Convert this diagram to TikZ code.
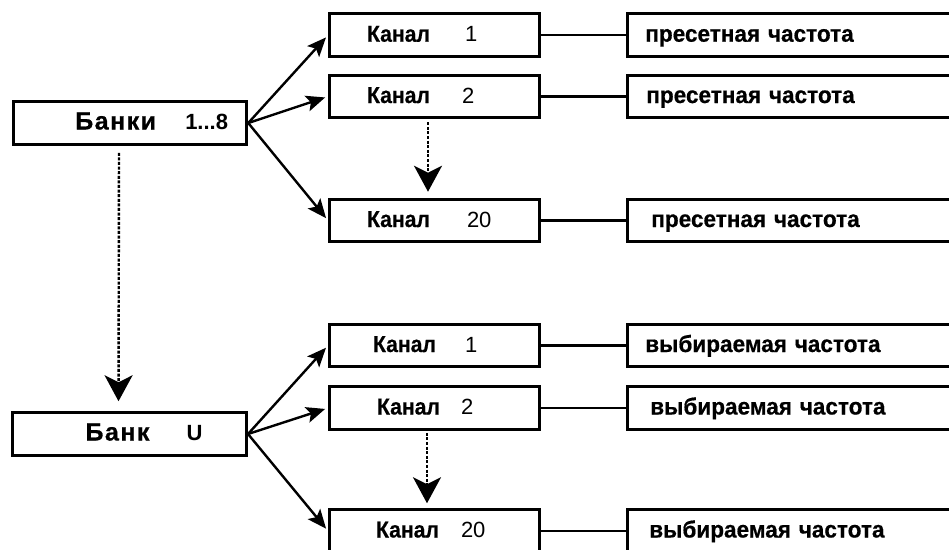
\documentclass[tikz,border=0pt]{standalone}
\usepackage{fontspec}
\setmainfont{Liberation Sans}
\newfontfamily\kanalfont[FakeStretch=0.92,FakeBold=0.6]{Liberation Sans}
\newfontfamily\freqfont[FakeStretch=0.96,FakeBold=0.6]{Liberation Sans}
\newfontfamily\bankfont[LetterSpace=6,FakeBold=0.6]{Liberation Sans}
\usetikzlibrary{arrows.meta}

% Schriften fuer Beschriftungen
\newcommand\chnum[1]{{\mainfont\mdseries\fontsize{22}{22}\selectfont #1}}
\newcommand\mainfont{\fontspec{Liberation Sans}}
\newcommand\kanal[3]{\hspace*{#1pt}\rlap{Канал}\hspace*{#2pt}\chnum{#3}}

\begin{document}
\begin{tikzpicture}[x=1pt,y=-1pt,
    box/.style={draw, line width=3pt, inner sep=0pt, minimum height=42.5pt,
      text width=#1, align=left, text height=15pt, text depth=2pt,
      font=\kanalfont\bfseries\fontsize{23}{23}\selectfont},
    bankbox/.style={box=#1, font=\bankfont\bfseries\fontsize{25}{25}\selectfont},
    freqbox/.style={box=#1, font=\freqfont\bfseries\fontsize{23.5}{23.5}\selectfont},
    arr/.style={-{Stealth[length=19pt,width=16pt,inset=4pt]}, line width=2.4pt, shorten >=3pt},
    dots/.style={-{Stealth[length=26pt,width=28pt,inset=7pt]}, line width=2.4pt,
      dash pattern=on 3pt off 1.6pt},
    link/.style={line width=2.4pt}]
  \useasboundingbox (0,0) rectangle (949,549);

  % Breiten der Kaesten
  \def\wb{233.5}  % Bank
  \def\wk{210}    % Kanal
  \def\wf{340}    % Frequenz

  % obere Gruppe: Banken 1...8
  \node[bankbox=\wb pt] (banki) at (130,123) {\hspace*{62pt}\rlap{Банки}\hspace*{110pt}{\mainfont\bfseries\fontsize{22}{22}\selectfont 1...8}};
  \node[box=\wk pt] (ka1) at (434.5,35.2) {\kanal{37.5}{98}{1}};
  \node[box=\wk pt] (ka2) at (434.5,96.5) {\kanal{37.5}{95}{2}};
  \node[box=\wk pt] (ka20) at (434.5,220.5) {\kanal{37.5}{100}{20}};
  \node[freqbox=\wf pt] (pa1) at (797.3,35.2) {\hspace*{18pt}пресетная частота};
  \node[freqbox=\wf pt] (pa2) at (797.3,96.5) {\hspace*{19pt}пресетная частота};
  \node[freqbox=\wf pt] (pa20) at (797.3,220.5) {\hspace*{24pt}пресетная частота};

  % untere Gruppe: Bank U
  \node[bankbox=234pt] (banku) at (129.5,434) {\hspace*{73pt}\rlap{Банк}\hspace*{101pt}{\mainfont\bfseries\fontsize{22}{22}\selectfont U}};
  \node[box=\wk pt] (kb1) at (434.5,345.5) {\kanal{43.5}{92}{1}};
  \node[box=\wk pt] (kb2) at (434.5,408) {\kanal{47.5}{84}{2}};
  \node[box=\wk pt] (kb20) at (434.5,531) {\kanal{46.5}{85}{20}};
  \node[freqbox=\wf pt] (pb1) at (797.3,345.5) {\hspace*{18pt}выбираемая частота};
  \node[freqbox=\wf pt] (pb2) at (797.3,408) {\hspace*{23pt}выбираемая частота};
  \node[freqbox=\wf pt] (pb20) at (797.3,531) {\hspace*{22pt}выбираемая частота};

  % Pfeile von den Banken zu den Kanaelen
  \foreach \b/\k in {banki/ka1, banki/ka2, banki/ka20, banku/kb1, banku/kb2, banku/kb20}
    \draw[arr] (\b.east) -- (\k.west);

  % Linien zu den Frequenzen
  \foreach \k/\p in {ka1/pa1, ka2/pa2, ka20/pa20, kb1/pb1, kb2/pb2, kb20/pb20}
    \draw[link] (\k.east) -- (\p.west);

  % gestrichelte Pfeile
  \draw[dots, shorten <=7pt, shorten >=10pt] ([xshift=-11pt]banki.south) -- ([xshift=-11pt]banku.north);
  \draw[dots, shorten <=3pt, shorten >=6pt] ([xshift=-6.5pt]ka2.south) -- ([xshift=-6.5pt]ka20.north);
  \draw[dots, shorten <=2pt, shorten >=5pt] ([xshift=-7.5pt]kb2.south) -- ([xshift=-7.5pt]kb20.north);
\end{tikzpicture}
\end{document}
